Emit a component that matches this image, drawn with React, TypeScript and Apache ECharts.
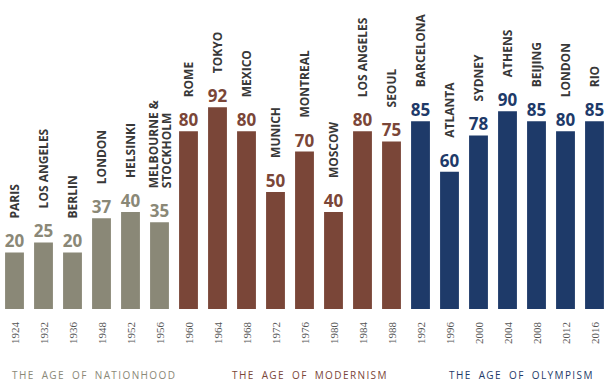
import React, { useEffect, useRef } from 'react';
import * as echarts from 'echarts';

const years = ['1924', '1932', '1936', '1948', '1952', '1956', '1960', '1964', '1968', '1972', '1976', '1980', '1984', '1988', '1992', '1996', '2000', '2004', '2008', '2012', '2016'];
const cities = ['PARIS', 'LOS ANGELES', 'BERLIN', 'LONDON', 'HELSINKI', 'MELBOURNE &\nSTOCKHOLM', 'ROME', 'TOKYO', 'MEXICO', 'MUNICH', 'MONTREAL', 'MOSCOW', 'LOS ANGELES', 'SEOUL', 'BARCELONA', 'ATLANTA', 'SYDNEY', 'ATHENS', 'BEIJING', 'LONDON', 'RIO'];
const values = [20, 25, 20, 37, 40, 35, 80, 92, 80, 50, 70, 40, 80, 75, 85, 60, 78, 90, 85, 80, 85];
const eras = ['nation', 'nation', 'nation', 'nation', 'nation', 'nation', 'modern', 'modern', 'modern', 'modern', 'modern', 'modern', 'modern', 'modern', 'olymp', 'olymp', 'olymp', 'olymp', 'olymp', 'olymp', 'olymp'];
const eraNames = ['THE AGE OF NATIONHOOD', 'THE AGE OF MODERNISM', 'THE AGE OF OLYMPISM'];
const eraKeys = ['nation', 'modern', 'olymp'];

const eraColor: Record<string, string> = { nation: '#8a8877', modern: '#7a4638', olymp: '#1e3a69' };
const Y_MIN = -8;

export default function App() {
  const ref = useRef<HTMLDivElement>(null);
  useEffect(() => {
    document.body.style.margin = '0';
    document.body.style.overflow = 'hidden';
    const chart = echarts.init(ref.current!, null, { renderer: 'svg' });
    const colors = eras.map((e) => eraColor[e]);
    const eraX = [12, 232, 449];
    chart.setOption({
      animation: false,
      grid: { left: -2, right: -3, top: 91, bottom: 80 },
      xAxis: {
        type: 'category',
        data: years,
        axisLine: { show: false },
        axisTick: { show: false },
        axisLabel: { rotate: 90, margin: 13, fontFamily: 'Liberation Serif', fontSize: 11, color: '#555' },
      },
      yAxis: { type: 'value', min: Y_MIN, max: 100, show: false },
      series: [
        {
          type: 'custom',
          silent: true,
          data: values.map((v, i) => [i, v]),
          renderItem: (params: any, api: any) => {
            const i = api.value(0);
            const top = api.coord([i, api.value(1)]);
            const base = api.coord([i, Y_MIN]);
            const w = api.size([1, 0])[0] * 0.65;
            return {
              type: 'rect',
              shape: { x: top[0] - w / 2, y: top[1], width: w, height: base[1] - top[1] },
              style: { fill: colors[i] },
            };
          },
        },
        {
          type: 'bar',
          barWidth: 19,
          silent: true,
          itemStyle: { color: 'rgba(0,0,0,0)' },
          data: values.map((v, i) => ({ value: v, label: { color: colors[i] } })),
          label: {
            show: true,
            position: 'top',
            distance: 3,
            fontFamily: 'Open Sans',
            fontWeight: 'bold',
            fontSize: 17,
          },
        },
        {
          type: 'bar',
          barWidth: 19,
          barGap: '-100%',
          silent: true,
          itemStyle: { color: 'rgba(0,0,0,0)' },
          data: values,
          label: {
            show: true,
            position: 'top',
            rotate: 90,
            align: 'left',
            verticalAlign: 'middle',
            distance: 34,
            lineHeight: 13,
            formatter: (p: any) => cities[p.dataIndex],
            fontFamily: 'Open Sans',
            fontWeight: 'bold',
            fontSize: 12,
            color: '#383838',
          },
        },
      ],
      graphic: eraNames.map((name, k) => ({
        type: 'text',
        x: eraX[k],
        y: 375,
        style: {
          text: name,
          fill: eraColor[eraKeys[k]],
          font: '500 10px "Open Sans"',
          textVerticalAlign: 'middle',
          textAlign: 'left',
        },
      })),
    });
    const svg = ref.current!.querySelector('svg');
    if (svg) {
      svg.querySelectorAll('text').forEach((t) => {
        if ((t.textContent || '').startsWith('THE AGE')) {
          t.setAttribute('letter-spacing', '1.4');
          t.setAttribute('word-spacing', '3');
        }
      });
    }
    return () => chart.dispose();
  }, []);
  return <div ref={ref} style={{ width: 609, height: 389 }} />;
}
